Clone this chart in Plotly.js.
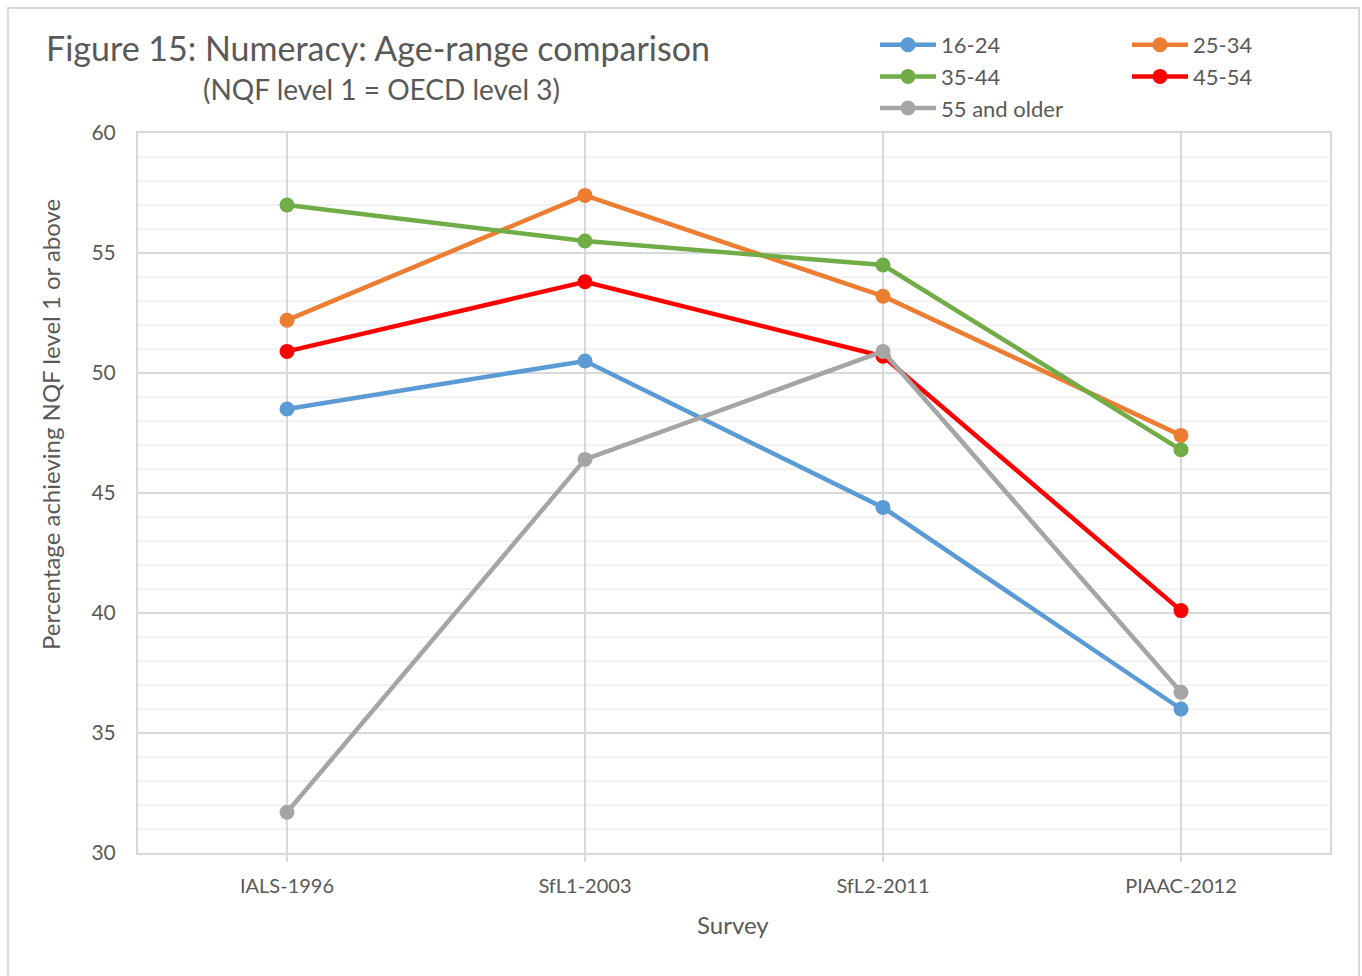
<!DOCTYPE html>
<html>
<head>
<meta charset="utf-8">
<script src="https://cdn.plot.ly/plotly-3.0.1.min.js"></script>
<style>
  html, body { margin: 0; padding: 0; background: #fff; }
  #wrap { position: relative; width: 1362px; height: 976px; overflow: hidden; }
  #chart { position: absolute; left: 0; top: 0; width: 1362px; height: 976px; }
  #frame { position: absolute; left: 7px; top: 7px; width: 1349px; height: 1000px;
           border: 2px solid #d9d9d9; pointer-events: none; }
</style>
</head>
<body>
<div id="wrap">
  <div id="chart"></div>
  <div id="frame"></div>
</div>
<script>
// ---- Data ----
const surveys = ["IALS-1996", "SfL1-2003", "SfL2-2011", "PIAAC-2012"];
const seriesNames = ["16-24", "25-34", "35-44", "45-54", "55 and older"];
const age16to24 = [48.5, 50.5, 44.4, 36.0];
const age25to34 = [52.2, 57.4, 53.2, 47.4];
const age35to44 = [57.0, 55.5, 54.5, 46.8];
const age45to54 = [50.9, 53.8, 50.7, 40.1];
const age55plus = [31.7, 46.4, 50.9, 36.7];
const yTicks = [30, 35, 40, 45, 50, 55, 60];

// ---- Styles ----
const colors = ["#5B9BD5", "#ED7D31", "#70AD47", "#FF0000", "#A5A5A5"];
const legendOf = ["legend", "legend2", "legend", "legend2", "legend"];
const values = [age16to24, age25to34, age35to44, age45to54, age55plus];
const FONT = "Lato, 'Open Sans', sans-serif";
const TXT = "#595959";

// plot area in pixels
const L = 138, R = 1330, T = 133, B = 853, W = 1362, H = 976;
const px = x => (x - L) / (R - L);
const py = y => (B - y) / (B - T);

const traces = values.map((v, i) => ({
  type: "scatter",
  mode: "lines+markers",
  x: surveys,
  y: v,
  name: seriesNames[i],
  legend: legendOf[i],
  line: { color: colors[i], width: 4.5 },
  marker: { color: colors[i], size: 15 },
  hoverinfo: "x+y+name"
}));

const legendBase = {
  xanchor: "left", yanchor: "top",
  orientation: "v", bgcolor: "rgba(0,0,0,0)",
  font: { family: FONT, size: 22, color: TXT },
  itemwidth: 56, tracegroupgap: 0, itemclick: false, itemdoubleclick: false
};

const layout = {
  width: W, height: H,
  margin: { l: L, r: W - R, t: T, b: H - B, pad: 0 },
  paper_bgcolor: "#ffffff",
  plot_bgcolor: "#ffffff",
  font: { family: FONT, color: TXT, size: 20 },
  showlegend: true,
  xaxis: {
    type: "category",
    range: [-0.5, 3.5],
    showgrid: true, gridcolor: "#d9d9d9", gridwidth: 2,
    showline: true, linecolor: "#d9d9d9", linewidth: 2, mirror: true,
    ticks: "outside", ticklen: 7, tickcolor: "#d9d9d9", tickwidth: 2,
    ticklabelstandoff: 7,
    tickfont: { family: FONT, size: 20, color: TXT },
    zeroline: false, fixedrange: true
  },
  yaxis: {
    range: [30, 60],
    tickvals: yTicks,
    ticktext: yTicks.map(String),
    showgrid: true, gridcolor: "#d9d9d9", gridwidth: 2,
    minor: { dtick: 1, showgrid: true, gridcolor: "#f2f2f2", gridwidth: 1.5, ticks: "" },
    showline: true, linecolor: "#d9d9d9", linewidth: 2, mirror: true,
    ticks: "", ticklabelstandoff: 16,
    tickfont: { family: FONT, size: 21, color: TXT },
    zeroline: false, fixedrange: true
  },
  legend: Object.assign({ x: px(875), y: py(24) }, legendBase),
  legend2: Object.assign({ x: px(1127), y: py(24) }, legendBase),
  annotations: [
    { text: "Figure 15: Numeracy: Age-range comparison", xref: "paper", yref: "paper",
      x: px(44), y: py(48), xanchor: "left", yanchor: "middle", showarrow: false,
      font: { family: FONT, size: 34, color: TXT } },
    { text: "(NQF level 1 = OECD level 3)", xref: "paper", yref: "paper",
      x: px(381), y: py(89), xanchor: "center", yanchor: "middle", showarrow: false,
      font: { family: FONT, size: 28, color: TXT } },
    { text: "Percentage achieving NQF level 1 or above", xref: "paper", yref: "paper",
      x: px(50), y: py(425), xanchor: "center", yanchor: "middle", showarrow: false,
      textangle: -90, font: { family: FONT, size: 24, color: TXT } },
    { text: "Survey", xref: "paper", yref: "paper",
      x: px(733), y: py(924), xanchor: "center", yanchor: "middle", showarrow: false,
      font: { family: FONT, size: 24, color: TXT } }
  ]
};

Plotly.newPlot("chart", traces, layout, { displayModeBar: false, staticPlot: false });
</script>
</body>
</html>
